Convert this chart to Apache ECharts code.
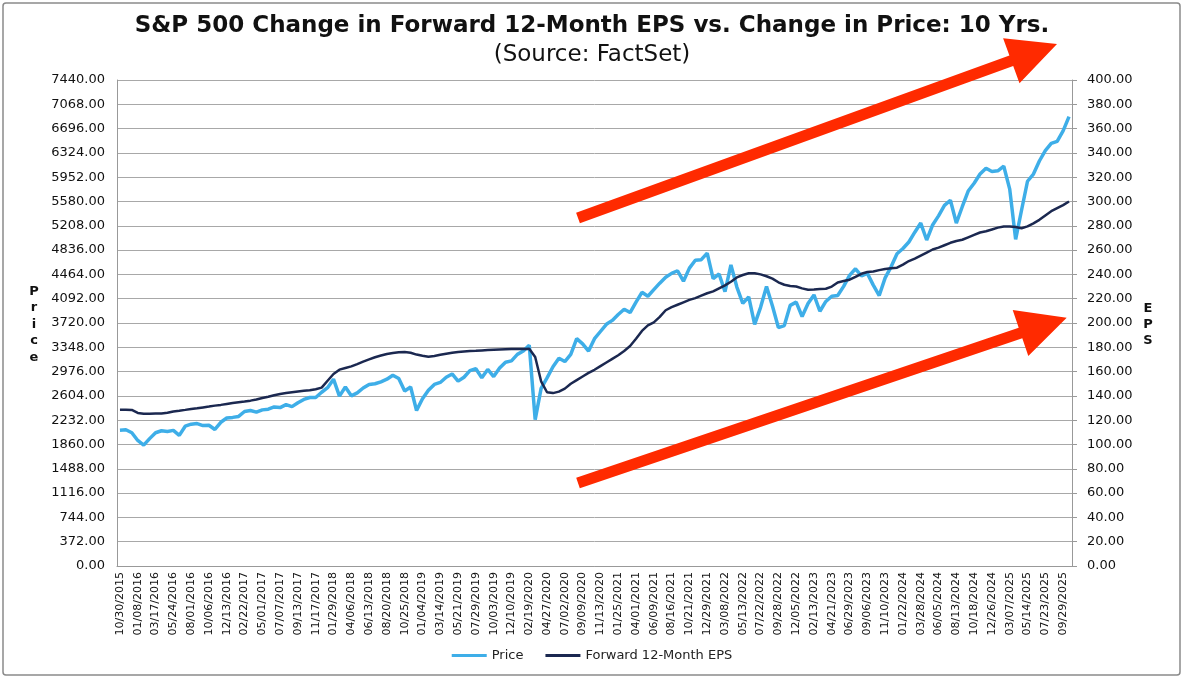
<!DOCTYPE html>
<html>
<head>
<meta charset="utf-8">
<script src="https://cdn.jsdelivr.net/npm/echarts@6/dist/echarts.min.js"></script>
<style>
html,body{margin:0;padding:0;background:#fff;}
#chart{width:1184px;height:679px;}
</style>
</head>
<body>
<div id="chart"></div>
<script>
// Tick labels on the category axis (every 3rd sampled point)
const tickLabels = [
"10/30/2015","01/08/2016","03/17/2016","05/24/2016","08/01/2016","10/06/2016","12/13/2016",
"02/22/2017","05/01/2017","07/07/2017","09/13/2017","11/17/2017","01/29/2018","04/06/2018",
"06/13/2018","08/20/2018","10/25/2018","01/04/2019","03/14/2019","05/21/2019","07/29/2019",
"10/03/2019","12/10/2019","02/19/2020","04/27/2020","07/02/2020","09/09/2020","11/13/2020",
"01/25/2021","04/01/2021","06/09/2021","08/16/2021","10/21/2021","12/29/2021","03/08/2022",
"05/13/2022","07/22/2022","09/28/2022","12/05/2022","02/13/2023","04/21/2023","06/29/2023",
"09/06/2023","11/10/2023","01/22/2024","03/28/2024","06/05/2024","08/13/2024","10/18/2024",
"12/26/2024","03/07/2025","05/14/2025","07/23/2025","09/29/2025"
];

const priceValues = [
2079,2085,2040,1922,1850,1950,2040,2070,2060,2076,2000,2140,2171,2180,2150,2155,2090,2200,2265,2275,
2290,2365,2380,2355,2390,2400,2435,2425,2470,2440,2500,2550,2580,2580,2660,2730,2860,2600,2740,2605,
2650,2725,2780,2790,2820,2860,2920,2870,2680,2740,2380,2560,2690,2780,2810,2890,2940,2830,2890,2990,
3020,2880,3010,2900,3030,3120,3140,3240,3290,3380,2240,2720,2880,3050,3180,3130,3240,3480,3400,3290,
3480,3590,3700,3760,3850,3930,3880,4040,4190,4130,4230,4330,4420,4480,4520,4360,4560,4680,4690,4790,
4400,4470,4200,4610,4270,4020,4120,3700,3960,4280,3980,3650,3680,3990,4040,3820,4020,4150,3900,4050,
4130,4140,4280,4450,4550,4440,4480,4300,4140,4410,4580,4780,4860,4960,5110,5250,4990,5220,5360,5520,
5600,5250,5500,5740,5860,6000,6090,6040,6050,6120,5770,5000,5450,5890,6000,6200,6360,6470,6500,6660,
6880
];

// Forward 12-month EPS (right axis)
const epsValues = [
128.5,128.6,128.4,126.0,125.3,125.4,125.5,125.6,126.2,127.2,127.8,128.5,129.3,129.8,130.5,131.2,132.0,132.6,133.4,134.2,
134.8,135.4,136.1,137.0,138.2,139.3,140.5,141.6,142.3,143.0,143.7,144.2,144.6,145.5,146.8,152.5,158.0,161.6,163.0,164.3,
166.2,168.2,170.0,171.8,173.2,174.5,175.3,176.0,176.1,175.5,174.0,173.0,172.2,172.8,173.8,174.7,175.5,176.2,176.6,176.9,
177.1,177.4,177.7,178.0,178.2,178.4,178.5,178.6,178.7,178.8,172.0,152.0,143.0,142.3,143.5,146.0,150.0,153.0,156.0,158.9,
161.5,164.5,167.5,170.5,173.5,177.0,181.0,187.0,193.5,198.0,200.5,205.0,210.5,213.0,215.0,217.0,219.0,220.5,222.5,224.5,
226.0,228.5,231.0,234.0,237.5,239.5,241.0,241.0,240.0,238.5,236.5,233.5,231.5,230.5,230.0,228.5,227.4,227.5,228.0,228.2,
230.0,233.4,234.5,235.6,238.0,240.5,242.0,242.4,243.5,244.5,245.0,245.5,248.0,251.0,253.0,255.5,258.0,260.5,262.0,264.0,
266.0,267.5,268.5,270.5,272.5,274.5,275.5,277.0,278.5,279.4,279.5,279.0,278.0,279.5,282.0,284.9,288.5,292.0,294.5,297.0,
300.0
];

// Build category list: each tick label followed by two unlabeled sample slots
const categories = [];
tickLabels.forEach((d, j) => {
  categories.push(d);
  if (j < tickLabels.length - 1) { categories.push(d + "+1"); categories.push(d + "+2"); }
});
categories.push(tickLabels[tickLabels.length - 1] + "+1");

const FONT = "DejaVu Sans";
const arrowColor = "#ff2a00";
const priceColor = "#3eaee8";
const epsColor = "#1b2850";

const chart = echarts.init(document.getElementById('chart'), null, {renderer: 'canvas'});
chart.setOption({
  animation: false,
  backgroundColor: '#ffffff',
  title: [
    {text: 'S&P 500 Change in Forward 12-Month EPS vs. Change in Price: 10 Yrs.', left: 'center', top: 10,
     textStyle: {fontFamily: FONT, fontWeight: 'bold', fontSize: 23, color: '#111'}},
    {text: '(Source: FactSet)', left: 'center', top: 39,
     textStyle: {fontFamily: FONT, fontWeight: 'normal', fontSize: 23, color: '#111'}}
  ],
  legend: {
    bottom: 12, left: 'center', itemWidth: 35, itemHeight: 3, itemGap: 22,
    textStyle: {fontFamily: FONT, fontSize: 13, color: '#222'},
    data: [
      {name: 'Price', icon: 'rect', itemStyle: {color: priceColor}},
      {name: 'Forward 12-Month EPS', icon: 'rect', itemStyle: {color: epsColor}}
    ]
  },
  grid: {left: 117, right: 112, top: 80, bottom: 113},
  xAxis: {
    type: 'category', data: categories, boundaryGap: true,
    axisLine: {show: true, lineStyle: {color: '#999', width: 1}},
    axisTick: {show: false},
    axisLabel: {interval: 2, rotate: 90, margin: 6, fontFamily: FONT, fontSize: 11, color: '#111'}
  },
  yAxis: [
    {type: 'value', min: 0, max: 7440, interval: 372, position: 'left',
     axisLine: {show: true, lineStyle: {color: '#999'}},
     axisTick: {show: false},
     splitLine: {show: true, lineStyle: {color: '#a8a8a8', width: 1}},
     axisLabel: {margin: 12, fontFamily: FONT, fontSize: 13, color: '#111', formatter: v => v.toFixed(2)}},
    {type: 'value', min: 0, max: 400, interval: 20, position: 'right',
     axisLine: {show: true, lineStyle: {color: '#999'}},
     axisTick: {show: true, length: 5, lineStyle: {color: '#999'}},
     splitLine: {show: false},
     axisLabel: {margin: 15, fontFamily: FONT, fontSize: 13, color: '#111', formatter: v => v.toFixed(2)}}
  ],
  series: [
    {name: 'Price', type: 'line', data: priceValues, yAxisIndex: 0, symbol: 'none',
     lineStyle: {color: priceColor, width: 3.5}, itemStyle: {color: priceColor}, z: 2},
    {name: 'Forward 12-Month EPS', type: 'line', data: epsValues, yAxisIndex: 1, symbol: 'none',
     lineStyle: {color: epsColor, width: 2.5}, itemStyle: {color: epsColor}, z: 3}
  ],
  graphic: [
    {type: 'rect', shape: {x: 3, y: 3, width: 1177, height: 672, r: 3},
     style: {fill: 'none', stroke: '#8a8a8a', lineWidth: 1.5}, z: 0, silent: true},
    {type: 'text', x: 34, y: 283, z: 50,
     style: {text: 'P\nr\ni\nc\ne', font: 'bold 13px "DejaVu Sans"', lineHeight: 16.5, textAlign: 'center', textVerticalAlign: 'top', fill: '#111'}},
    {type: 'text', x: 1148, y: 300, z: 50,
     style: {text: 'E\nP\nS', font: 'bold 13px "DejaVu Sans"', lineHeight: 16.3, textAlign: 'center', textVerticalAlign: 'top', fill: '#111'}},
    {type: 'polygon', z: 100, silent: true,
     shape: {points: [[576.1,212.8],[1009.4,55.6],[1003.1,38.3],[1057,44],[1019.5,83.3],[1013.2,66.0],[579.9,223.2]]},
     style: {fill: arrowColor}},
    {type: 'polygon', z: 100, silent: true,
     shape: {points: [[576.2,477.8],[1018.7,327.8],[1012.7,310],[1066.7,317.7],[1028.3,356],[1022.3,338.2],[579.8,488.2]]},
     style: {fill: arrowColor}}
  ]
});
</script>
</body>
</html>
